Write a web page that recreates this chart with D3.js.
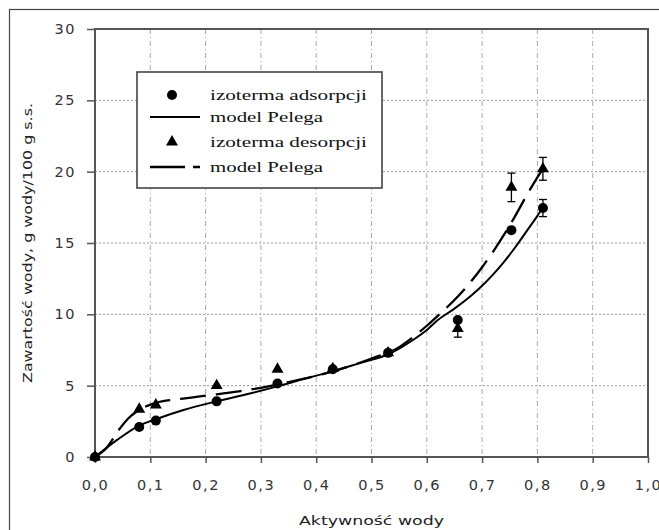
<!DOCTYPE html>
<html><head><meta charset="utf-8">
<script src="https://cdn.jsdelivr.net/npm/d3@7"></script>
<style>
html,body{margin:0;padding:0;background:#fff;}
svg{display:block;}
</style>
</head><body>
<svg id="chart" width="659" height="530"></svg>
<script>
// ---- data ----
const xTicks = [0,0.1,0.2,0.3,0.4,0.5,0.6,0.7,0.8,0.9,1.0];
const yTicks = [0,5,10,15,20,25,30];

const adsA   = [0, 0.08, 0.11, 0.22, 0.33, 0.43, 0.53, 0.656, 0.753, 0.81];
const adsW   = [0, 2.1, 2.55, 3.9, 5.15, 6.15, 7.3, 9.6, 15.9, 17.45];
const adsErr = [0, 0, 0, 0, 0, 0, 0, 0, 0, 0.6];

const desA   = [0, 0.08, 0.11, 0.22, 0.33, 0.43, 0.53, 0.656, 0.753, 0.81];
const desW   = [0, 3.35, 3.65, 5.0, 6.15, 6.2, 7.3, 9.0, 18.9, 20.2];
const desErr = [0, 0, 0, 0, 0, 0, 0, 0.6, 1.0, 0.8];

const pelAdsA = [0, 0.04, 0.08, 0.11, 0.16, 0.22, 0.28, 0.33, 0.38, 0.43, 0.48, 0.53, 0.55, 0.575, 0.6, 0.62, 0.65, 0.68, 0.70, 0.72, 0.74, 0.76, 0.78, 0.80, 0.81];
const pelAdsW = [0, 1.2, 2.2, 2.65, 3.3, 3.9, 4.45, 4.95, 5.5, 6.0, 6.6, 7.2, 7.6, 8.2, 8.9, 9.6, 10.4, 11.3, 12.0, 12.8, 13.7, 14.7, 15.8, 16.9, 17.5];

const pelDesA = [0, 0.02, 0.045, 0.06, 0.08, 0.11, 0.15, 0.2, 0.26, 0.3, 0.35, 0.43, 0.5, 0.55, 0.575, 0.6, 0.62, 0.65, 0.68, 0.70, 0.72, 0.74, 0.76, 0.78, 0.80, 0.81];
const pelDesW = [0, 0.6, 2.0, 2.7, 3.3, 3.8, 4.05, 4.3, 4.6, 4.85, 5.25, 6.0, 6.9, 7.7, 8.4, 9.2, 9.9, 11.0, 12.3, 13.3, 14.4, 15.6, 16.9, 18.3, 19.6, 20.2];

const legendLabels = ["izoterma adsorpcji", "model Pelega", "izoterma desorpcji", "model Pelega"];
const xTitle = "Aktywność wody";
const yTitle = "Zawartość wody, g wody/100 g s.s.";

// ---- drawing ----
const svg = d3.select("#chart");
const L = 95, R = 648, T = 29, B = 457;
const x = d3.scaleLinear().domain([0,1]).range([L,R]);
const y = d3.scaleLinear().domain([0,30]).range([B,T]);
const fmt = d => d3.format(".1f")(d).replace(".", ",");

// outer frame
svg.append("rect").attr("x",9.5).attr("y",9.5).attr("width",660).attr("height",540)
  .attr("fill","none").attr("stroke","#444").attr("stroke-width",1.2);

// grid
const g = svg.append("g");
g.selectAll(".vg").data(xTicks.slice(1,-1)).join("line")
  .attr("x1",d=>x(d)).attr("x2",d=>x(d)).attr("y1",T).attr("y2",B)
  .attr("stroke","#aaa").attr("stroke-width",1).attr("stroke-dasharray","5,3,1,3");
g.selectAll(".hg").data(yTicks.slice(1,-1)).join("line")
  .attr("x1",L).attr("x2",R).attr("y1",d=>y(d)).attr("y2",d=>y(d))
  .attr("stroke","#999").attr("stroke-width",1).attr("stroke-dasharray","2,2");

// axes
const xAxis = svg.append("g").attr("transform",`translate(0,${B})`)
  .call(d3.axisBottom(x).tickValues(xTicks).tickFormat(fmt).tickSize(6).tickPadding(17));
const yAxis = svg.append("g").attr("transform",`translate(${L},0)`)
  .call(d3.axisLeft(y).tickValues(yTicks).tickSize(8).tickPadding(11));
[xAxis,yAxis].forEach(a=>{
  a.select(".domain").remove();
  a.selectAll(".tick line").attr("stroke","#555").attr("stroke-width",1.5);
  a.selectAll(".tick text").attr("fill","#333").style("font-family","'DejaVu Sans',sans-serif")
   .style("font-size","14.5px").style("letter-spacing","1.5px");
});
// plot border
svg.append("rect").attr("x",L).attr("y",T).attr("width",R-L).attr("height",B-T)
  .attr("fill","none").attr("stroke","#555").attr("stroke-width",2);

// model lines
const line = d3.line().x(d=>x(d[0])).y(d=>y(d[1])).curve(d3.curveMonotoneX);
svg.append("path").datum(pelAdsA.map((a,i)=>[a,pelAdsW[i]]))
  .attr("d",line).attr("fill","none").attr("stroke","#000").attr("stroke-width",2);
svg.append("path").datum(pelDesA.map((a,i)=>[a,pelDesW[i]]))
  .attr("d",line).attr("fill","none").attr("stroke","#000").attr("stroke-width",2.3)
  .attr("stroke-dasharray","26,10");

// error bars
function errBars(A,W,E){
  const d = A.map((a,i)=>({a,w:W[i],e:E[i]})).filter(d=>d.e>0);
  const eg = svg.append("g").attr("stroke","#000").attr("stroke-width",1.3);
  eg.selectAll(".v").data(d).join("line").attr("x1",d=>x(d.a)).attr("x2",d=>x(d.a))
    .attr("y1",d=>y(d.w-d.e)).attr("y2",d=>y(d.w+d.e));
  eg.selectAll(".t").data(d).join("line").attr("x1",d=>x(d.a)-4).attr("x2",d=>x(d.a)+4)
    .attr("y1",d=>y(d.w+d.e)).attr("y2",d=>y(d.w+d.e));
  eg.selectAll(".b").data(d).join("line").attr("x1",d=>x(d.a)-4).attr("x2",d=>x(d.a)+4)
    .attr("y1",d=>y(d.w-d.e)).attr("y2",d=>y(d.w-d.e));
}
errBars(adsA,adsW,adsErr);
errBars(desA,desW,desErr);

// markers
const tri = d3.symbol().type(d3.symbolTriangle).size(62);
svg.append("g").selectAll("path").data(desA.map((a,i)=>[a,desW[i]])).join("path")
  .attr("d",tri).attr("transform",d=>`translate(${x(d[0])},${y(d[1])})`).attr("fill","#000");
svg.append("g").selectAll("circle").data(adsA.map((a,i)=>[a,adsW[i]])).join("circle")
  .attr("cx",d=>x(d[0])).attr("cy",d=>y(d[1])).attr("r",5).attr("fill","#000");

// legend
const lg = svg.append("g");
lg.append("rect").attr("x",137).attr("y",72).attr("width",245).attr("height",116)
  .attr("fill","#fff").attr("stroke","#444").attr("stroke-width",1.6);
const rows = [95,117,142,167];
lg.append("circle").attr("cx",172).attr("cy",rows[0]).attr("r",5).attr("fill","#000");
lg.append("line").attr("x1",150).attr("x2",200).attr("y1",rows[1]).attr("y2",rows[1]).attr("stroke","#000").attr("stroke-width",2);
lg.append("path").attr("d",tri).attr("transform",`translate(172,${rows[2]})`).attr("fill","#000");
lg.append("line").attr("x1",150).attr("x2",200).attr("y1",rows[3]).attr("y2",rows[3]).attr("stroke","#000").attr("stroke-width",2.3).attr("stroke-dasharray","35,8");
const lw = [157,113,157,113];
lg.selectAll("text").data(legendLabels).join("text")
  .attr("x",210).attr("y",(d,i)=>rows[i]+5).text(d=>d)
  .attr("textLength",(d,i)=>lw[i]).attr("lengthAdjust","spacingAndGlyphs")
  .style("font-family","'Liberation Serif','Times New Roman',serif").style("font-size","15px").attr("fill","#111");

// titles
svg.append("text").attr("x",(L+R)/2).attr("y",525).attr("text-anchor","middle").text(xTitle)
  .attr("textLength",145).attr("lengthAdjust","spacingAndGlyphs")
  .style("font-family","'DejaVu Sans',sans-serif").style("font-size","13px").attr("fill","#222");
svg.append("text").attr("transform",`translate(32,${(T+B)/2+0}) rotate(-90)`).attr("text-anchor","middle").text(yTitle)
  .attr("textLength",280).attr("lengthAdjust","spacingAndGlyphs")
  .style("font-family","'DejaVu Sans',sans-serif").style("font-size","13px").attr("fill","#222");
</script>
</body></html>
